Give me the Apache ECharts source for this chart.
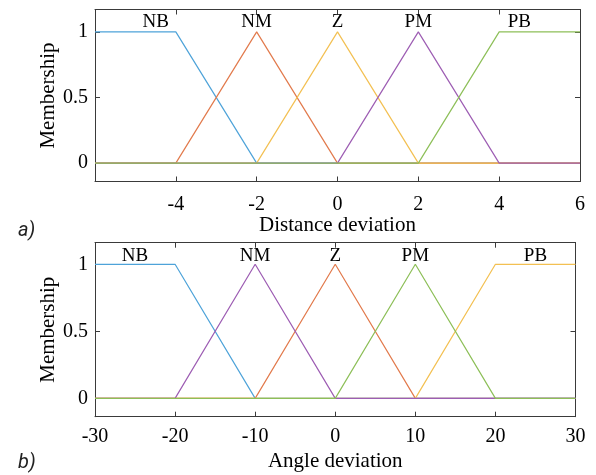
<!DOCTYPE html>
<html>
<head>
<meta charset="utf-8">
<script src="https://cdn.jsdelivr.net/npm/echarts@6/dist/echarts.min.js"></script>
<style>
html,body{margin:0;padding:0;background:#fff;}
#c{width:596px;height:475px;}
</style>
</head>
<body>
<div id="c"></div>
<script>
// ---- Data ----
var distX = [-6, -4, -2, 0, 2, 4, 6];
var distNB = [1, 1, 0, 0, 0, 0, 0];
var distNM = [0, 0, 1, 0, 0, 0, 0];
var distZ  = [0, 0, 0, 1, 0, 0, 0];
var distPM = [0, 0, 0, 0, 1, 0, 0];
var distPB = [0, 0, 0, 0, 0, 1, 1];
var distLabels = ['NB', 'NM', 'Z', 'PM', 'PB'];
var distLabelX = [-4.5, -2, 0, 2, 4.5];
var distLabelY = 1.075;

var angX = [-30, -20, -10, 0, 10, 20, 30];
var angNB = [1, 1, 0, 0, 0, 0, 0];
var angNM = [0, 0, 1, 0, 0, 0, 0];
var angZ  = [0, 0, 0, 1, 0, 0, 0];
var angPM = [0, 0, 0, 0, 1, 0, 0];
var angPB = [0, 0, 0, 0, 0, 1, 1];
var angLabels = ['NB', 'NM', 'Z', 'PM', 'PB'];
var angLabelX = [-25, -10, 0, 10, 25];
var angLabelY = 1.06;

var yTicks = [0, 0.5, 1];
var distTicks = [-4, -2, 0, 2, 4, 6];
var angTicks = [-30, -20, -10, 0, 10, 20, 30];

// ---- Styles ----
var C = {blue:'#4ea3d9', orange:'#e27a4c', yellow:'#f3c052', purple:'#9d5db3', green:'#8dbf58'};
var serif = 'Liberation Serif, Times New Roman, serif';
var axisCol = '#3a3a3a';
var txtCol = '#000';

function pairs(xs, ys){ return xs.map(function(x,i){ return [x, ys[i]]; }); }

function xAxes(gi, min, max, interval, ticks, name, nameGap, labelMargin){
  return [{
    gridIndex: gi, type:'value', min:min, max:max, interval:interval,
    position:'bottom',
    name:name, nameLocation:'middle', nameGap:nameGap,
    nameTextStyle:{fontFamily:serif, fontSize:21, color:txtCol},
    axisLine:{show:true, onZero:false, lineStyle:{color:axisCol, width:1}},
    axisTick:{show:true, inside:true, length:5, customValues:ticks, lineStyle:{color:axisCol}},
    axisLabel:{fontFamily:serif, fontSize:20, color:txtCol, margin:labelMargin, customValues:ticks},
    splitLine:{show:false}
  },{
    gridIndex: gi, type:'value', min:min, max:max, interval:interval,
    position:'top',
    axisLine:{show:true, onZero:false, lineStyle:{color:axisCol, width:1}},
    axisTick:{show:true, inside:true, length:5, customValues:ticks, lineStyle:{color:axisCol}},
    axisLabel:{show:false},
    splitLine:{show:false}
  }];
}
function yAxes(gi, min, max, nameGap){
  return [{
    gridIndex: gi, type:'value', min:min, max:max,
    position:'left',
    name:'Membership', nameLocation:'middle', nameGap:nameGap, nameRotate:90,
    nameMoveOverlap:false,
    nameTextStyle:{fontFamily:serif, fontSize:21, color:txtCol},
    axisLine:{show:true, onZero:false, lineStyle:{color:axisCol, width:1}},
    axisTick:{show:true, inside:true, length:5, customValues:yTicks, lineStyle:{color:axisCol}},
    axisLabel:{fontFamily:serif, fontSize:20, color:txtCol, margin:7, customValues:yTicks,
      formatter:function(v){ return String(v); }},
    splitLine:{show:false}
  },{
    gridIndex: gi, type:'value', min:min, max:max,
    position:'right',
    axisLine:{show:true, onZero:false, lineStyle:{color:axisCol, width:1}},
    axisTick:{show:true, inside:true, length:5, customValues:yTicks, lineStyle:{color:axisCol}},
    axisLabel:{show:false},
    splitLine:{show:false}
  }];
}
function lineSeries(xi, yi, xs, ys, color){
  return {type:'line', xAxisIndex:xi, yAxisIndex:yi, data:pairs(xs, ys),
    showSymbol:false, symbol:'none', silent:true, animation:false,
    lineStyle:{color:color, width:1.2}};
}
function labelSeries(xi, yi, xs, y, names){
  return {type:'scatter', xAxisIndex:xi, yAxisIndex:yi, symbolSize:0, silent:true, animation:false,
    itemStyle:{opacity:1},
    data: xs.map(function(x,i){ return {value:[x, y], name:names[i]}; }),
    label:{show:true, position:'inside', formatter:'{b}', fontFamily:serif, fontSize:19,
      color:txtCol, opacity:1, textBorderWidth:0}};
}

var option = {
  backgroundColor:'#fff',
  animation:false,
  grid:[
    {left:95, top:9.5, width:485, height:172, containLabel:false},
    {left:95, top:242.7, width:480.5, height:174, containLabel:false}
  ],
  xAxis: xAxes(0, -6, 6, 2, distTicks, 'Distance deviation', 33, 13)
         .concat(xAxes(1, -30, 30, 10, angTicks, 'Angle deviation', 34, 10)),
  yAxis: yAxes(0, -0.14, 1.17, 36).concat(yAxes(1, -0.137, 1.161, 36)),
  series:[
    lineSeries(0,0,distX,distNB,C.blue),
    lineSeries(0,0,distX,distNM,C.orange),
    lineSeries(0,0,distX,distZ,C.yellow),
    lineSeries(0,0,distX,distPM,C.purple),
    lineSeries(0,0,distX,distPB,C.green),
    labelSeries(0,0,distLabelX,distLabelY,distLabels),
    lineSeries(2,2,angX,angNB,C.blue),
    lineSeries(2,2,angX,angZ,C.orange),
    lineSeries(2,2,angX,angPB,C.yellow),
    lineSeries(2,2,angX,angNM,C.purple),
    lineSeries(2,2,angX,angPM,C.green),
    labelSeries(2,2,angLabelX,angLabelY,angLabels)
  ],
  graphic:[
    {type:'text', left:18, top:221, style:{text:'a)', font:'italic 20px Roboto, sans-serif', fill:'#222'}},
    {type:'text', left:18, top:453, style:{text:'b)', font:'italic 20px Roboto, sans-serif', fill:'#222'}}
  ]
};
var chart = echarts.init(document.getElementById('c'), null, {renderer:'canvas'});
chart.setOption(option);
</script>
</body>
</html>
